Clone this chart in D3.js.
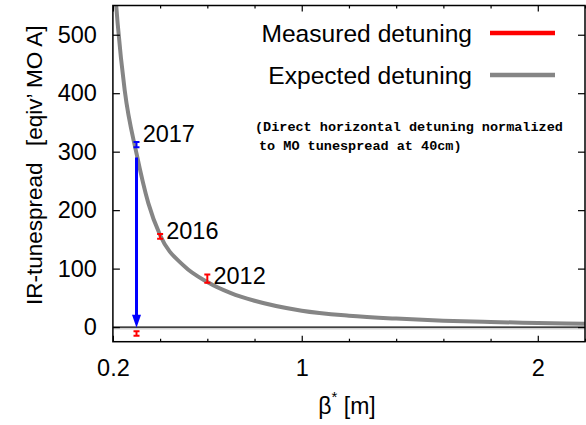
<!DOCTYPE html>
<html>
<head>
<meta charset="utf-8">
<script src="https://cdn.jsdelivr.net/npm/d3@7"></script>
<style>
  body { margin: 0; background: #fff; }
  svg { display: block; font-family: "Liberation Sans", Arial, sans-serif; }
  .tick text { font-size: 23.5px; fill: #000; }
  .tick line { stroke: #000; stroke-width: 1.2; }
  .domain { display: none; }
  .mono { font-family: "Liberation Mono", "DejaVu Sans Mono", monospace; font-weight: bold; font-size: 13.5px; }
</style>
</head>
<body>
<svg width="586" height="425"></svg>
<script>
// expected detuning curve
const curveBeta  = [0.21, 0.22, 0.25, 0.3, 0.35, 0.4, 0.5, 0.6, 0.7, 0.8, 1.0, 1.2, 1.4, 1.6, 1.8, 2.0, 2.2]
const curveValue = [570, 520, 405, 297, 212, 157, 105, 77, 58, 45, 28, 19.5, 14.5, 11, 8.7, 7, 5.5]

// measured points
const pointYear  = ["2017", "2016", "2012", ""]
const pointBeta  = [0.3, 0.4, 0.6, 0.3]
const pointValue = [312, 155, 83, -11]
const pointErr   = [4.5, 4, 7, 4]
const pointColor = ["blue", "red", "red", "red"]
const labelBeta  = [0.326, 0.426, 0.626]
const labelValue = [330, 165, 88]

// arrow 2017 expected -> measured
const arrowBeta = 0.3
const arrowFrom = 290
const arrowTo   = -1

const grayRefValue = -3

const xMajor = [0.2, 1, 2]
const xMinor = [0.4, 0.6, 0.8, 1.2, 1.4, 1.6, 1.8, 2.2]
const yTicks = [0, 100, 200, 300, 400, 500]

const svg = d3.select("svg")

const mLeft = 112.9, mRight = 585, mTop = 5.5, mBottom = 341.7

const x = d3.scaleLinear().domain([0.2, 2.2]).range([mLeft, mRight])
const y = d3.scaleLinear().domain([-25, 550]).range([mBottom, mTop])

svg.append("defs").append("clipPath").attr("id", "plot")
    .append("rect")
    .attr("x", mLeft).attr("y", mTop)
    .attr("width", mRight - mLeft).attr("height", mBottom - mTop)

const plot = svg.append("g").attr("clip-path", "url(#plot)")

// zero line + faint gray reference just under it
plot.append("line")
    .attr("x1", mLeft).attr("x2", mRight)
    .attr("y1", y(grayRefValue)).attr("y2", y(grayRefValue))
    .attr("stroke", "#d0d0d0").attr("stroke-width", 1.5)

plot.append("line")
    .attr("x1", mLeft).attr("x2", mRight)
    .attr("y1", y(0)).attr("y2", y(0))
    .attr("stroke", "#000").attr("stroke-width", 1.2)

// expected curve
const curveData = curveBeta.map((b, i) => ({ b: b, v: curveValue[i] }))

const line = d3.line()
    .x(d => x(d.b))
    .y(d => y(d.v))
    .curve(d3.curveMonotoneX)

plot.append("path")
    .datum(curveData)
    .attr("d", line)
    .attr("fill", "none")
    .attr("stroke", "#858585")
    .attr("stroke-width", 4)

// blue arrow
plot.append("line")
    .attr("x1", x(arrowBeta)).attr("x2", x(arrowBeta))
    .attr("y1", y(arrowFrom)).attr("y2", y(arrowTo) - 10)
    .attr("stroke", "#0000ff").attr("stroke-width", 3)

plot.append("path")
    .attr("d", `M${x(arrowBeta) - 4.5},${y(arrowTo) - 13} L${x(arrowBeta) + 4.5},${y(arrowTo) - 13} L${x(arrowBeta)},${y(arrowTo)} Z`)
    .attr("fill", "#0000ff")

// error bars
const points = pointBeta.map((b, i) => ({ b: b, v: pointValue[i], e: pointErr[i], c: pointColor[i] }))

const bars = plot.selectAll("g.bar")
    .data(points)
    .enter()
    .append("g")
    .attr("class", "bar")
    .attr("stroke", d => d.c)
    .attr("stroke-width", 2)

bars.append("line")
    .attr("x1", d => x(d.b)).attr("x2", d => x(d.b))
    .attr("y1", d => y(d.v - d.e)).attr("y2", d => y(d.v + d.e))

bars.append("line")
    .attr("x1", d => x(d.b) - 3).attr("x2", d => x(d.b) + 3)
    .attr("y1", d => y(d.v - d.e)).attr("y2", d => y(d.v - d.e))

bars.append("line")
    .attr("x1", d => x(d.b) - 3).attr("x2", d => x(d.b) + 3)
    .attr("y1", d => y(d.v + d.e)).attr("y2", d => y(d.v + d.e))

// year labels
svg.selectAll("text.year")
    .data(labelBeta)
    .enter()
    .append("text")
    .attr("class", "year")
    .attr("x", d => x(d))
    .attr("y", (d, i) => y(labelValue[i]) + 8)
    .attr("font-size", 23.5)
    .text((d, i) => pointYear[i])

// axes, ticks pointing inward
svg.append("g")
    .attr("transform", `translate(0,${mBottom})`)
    .call(d3.axisBottom(x).tickValues(xMajor).tickSizeInner(-6).tickPadding(18).tickFormat(d3.format("")))
    .selectAll("text").attr("dy", "0.71em")

svg.append("g")
    .attr("transform", `translate(0,${mBottom})`)
    .call(d3.axisBottom(x).tickValues(xMinor).tickSize(-3).tickFormat(""))

svg.append("g")
    .attr("transform", `translate(0,${mTop})`)
    .call(d3.axisTop(x).tickValues(xMajor).tickSize(-6).tickFormat(""))

svg.append("g")
    .attr("transform", `translate(0,${mTop})`)
    .call(d3.axisTop(x).tickValues(xMinor).tickSize(-3).tickFormat(""))

svg.append("g")
    .attr("transform", `translate(${mLeft},0)`)
    .call(d3.axisLeft(y).tickValues(yTicks).tickSizeInner(-7).tickPadding(16))

svg.append("g")
    .attr("transform", `translate(${mRight},0)`)
    .call(d3.axisRight(y).tickValues(yTicks).tickSize(-7).tickFormat(""))

// frame
svg.append("rect")
    .attr("x", mLeft).attr("y", mTop)
    .attr("width", mRight - mLeft).attr("height", mBottom - mTop)
    .attr("fill", "none").attr("stroke", "#000").attr("stroke-width", 1.5)

// legend
const legend = [
    { name: "Measured detuning", color: "#ff0000", y: 42 },
    { name: "Expected detuning", color: "#858585", y: 84 }
]

legend.forEach(d => {
    svg.append("text")
        .attr("x", 472).attr("y", d.y)
        .attr("text-anchor", "end")
        .attr("font-size", 24.6)
        .text(d.name)
    svg.append("line")
        .attr("x1", 490).attr("x2", 555)
        .attr("y1", d.y - 9).attr("y2", d.y - 9)
        .attr("stroke", d.color).attr("stroke-width", 4.5)
})

svg.append("text").attr("class", "mono")
    .attr("x", 255).attr("y", 131)
    .text("(Direct horizontal detuning normalized")

svg.append("text").attr("class", "mono")
    .attr("x", 259).attr("y", 150)
    .text("to MO tunespread at 40cm)")

// axis titles
const xt = svg.append("text")
    .attr("x", 347).attr("y", 414)
    .attr("text-anchor", "middle")
    .attr("font-size", 23)
xt.append("tspan").text("β")
xt.append("tspan").attr("font-size", 15).attr("dy", -12).text("*")
xt.append("tspan").attr("dy", 12).text(" [m]")

svg.append("text")
    .attr("transform", "translate(42,305) rotate(-90)")
    .attr("font-size", 22.5)
    .text("IR-tunespread")

svg.append("text")
    .attr("transform", "translate(42,146) rotate(-90)")
    .attr("font-size", 22.5)
    .text("[eqiv’ MO A]")
</script>
</body>
</html>
